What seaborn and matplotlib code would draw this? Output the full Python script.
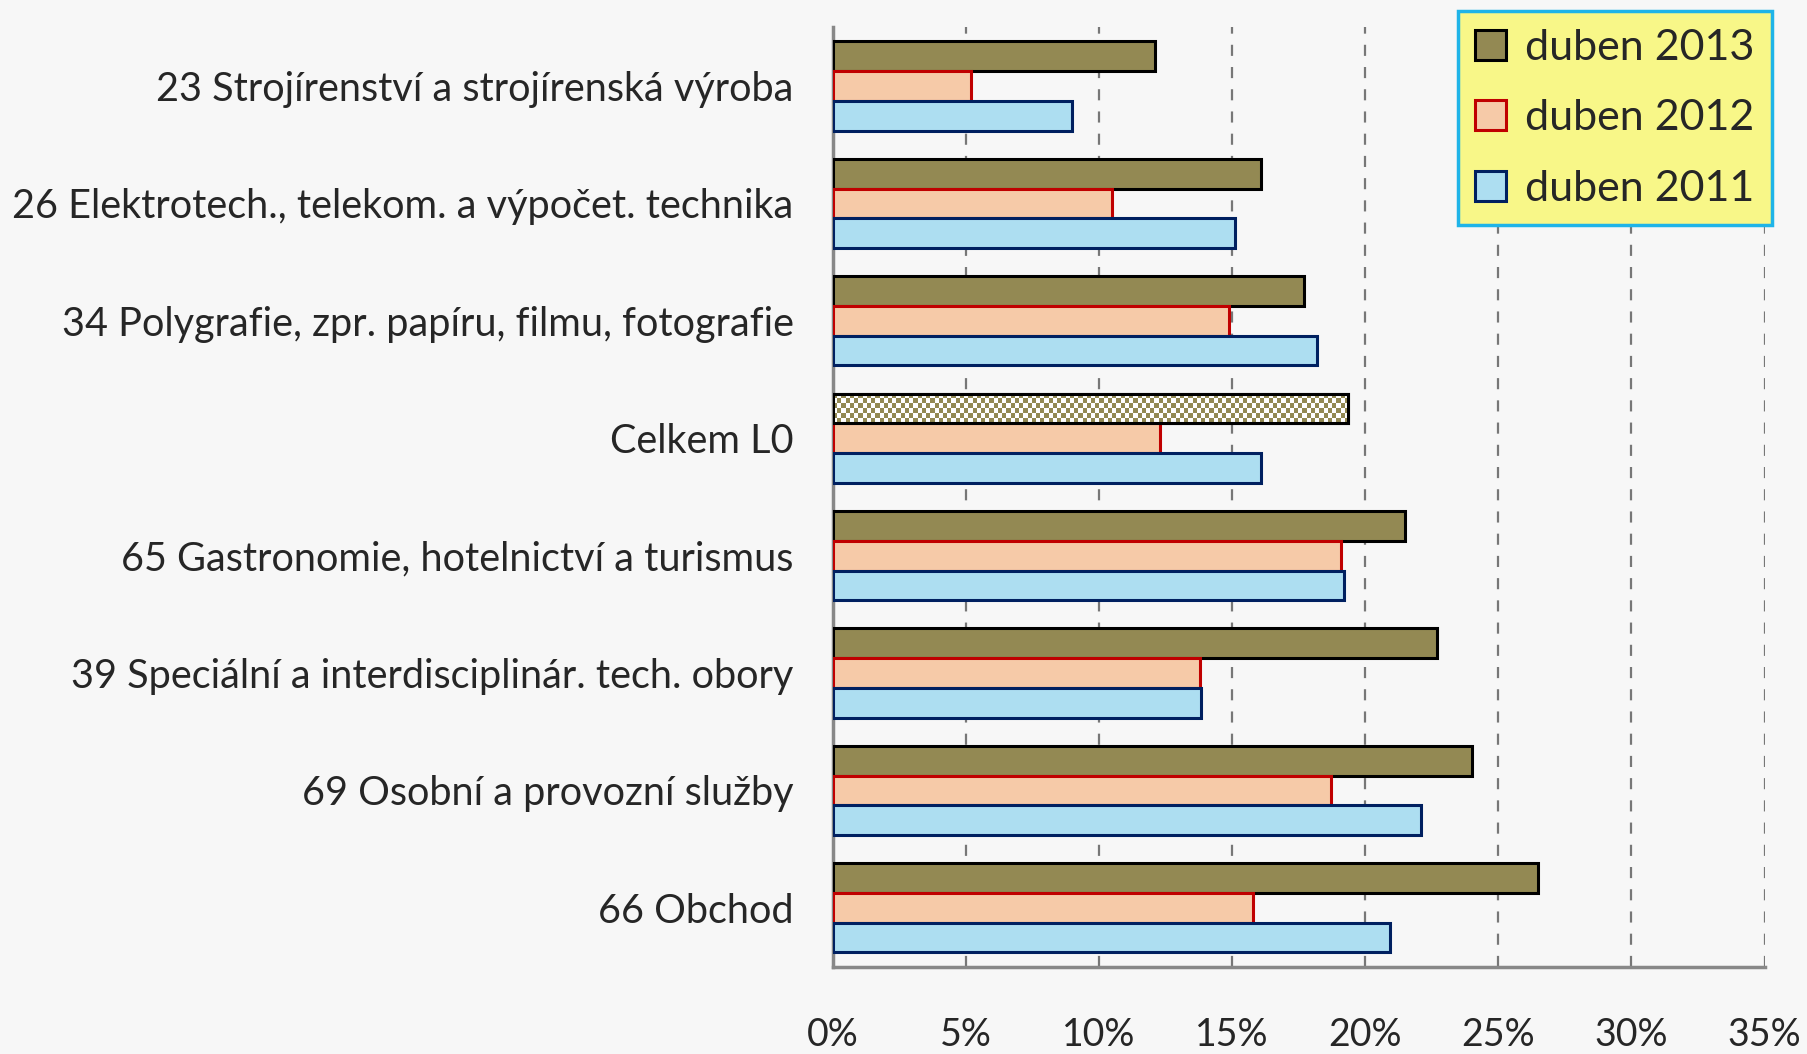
import numpy as np
import pandas as pd
import matplotlib
matplotlib.use("Agg")
import matplotlib.pyplot as plt
import seaborn as sns

# data (podíl nezaměstnaných absolventů, %)
obory = ['23 Strojírenství a strojírenská výroba',
         '26 Elektrotech., telekom. a výpočet. technika',
         '34 Polygrafie, zpr. papíru, filmu, fotografie',
         'Celkem L0',
         '65 Gastronomie, hotelnictví a turismus',
         '39 Speciální a interdisciplinár. tech. obory',
         '69 Osobní a provozní služby',
         '66 Obchod']
duben_2013 = [12.1, 16.1, 17.7, 19.35, 21.5, 22.7, 24.0, 26.5]
duben_2012 = [5.2, 10.5, 14.9, 12.3, 19.1, 13.8, 18.7, 15.8]
duben_2011 = [9.0, 15.1, 18.2, 16.1, 19.2, 13.85, 22.1, 20.95]
roky = ['duben 2013', 'duben 2012', 'duben 2011']
x_ticks = [0, 5, 10, 15, 20, 25, 30, 35]

df = pd.DataFrame({
    'obor': obory * 3,
    'rok': [roky[0]] * 8 + [roky[1]] * 8 + [roky[2]] * 8,
    'hodnota': duben_2013 + duben_2012 + duben_2011,
})

sns.set_theme(style='white')
plt.rcParams['font.family'] = ['Lato', 'DejaVu Sans']

face = {'duben 2013': '#938953', 'duben 2012': '#f6caa8', 'duben 2011': '#addef1'}
edge = {'duben 2013': '#000000', 'duben 2012': '#c00000', 'duben 2011': '#002060'}
bg = '#f7f7f7'

fig = plt.figure(figsize=(18.08, 10.54), dpi=100, facecolor=bg)
ax = fig.add_axes([0.4605, 0.083, 0.5155, 0.891])
ax.set_facecolor(bg)

sns.barplot(data=df, y='obor', x='hodnota', hue='rok', hue_order=roky, order=obory,
            orient='h', palette=face, saturation=1, width=0.76, ax=ax, legend=True, zorder=3)

for cont, r in zip(ax.containers, roky):
    for p in cont.patches:
        p.set_edgecolor(edge[r])
        p.set_linewidth(2.2)

# Celkem L0 - 2013 checkerboard fill
bar = ax.containers[0].patches[obory.index('Celkem L0')]
bx, by, bw, bh = bar.get_x(), bar.get_y(), bar.get_width(), bar.get_height()
n_x = int(bw / 35 * 931 / 4.2)
n_y = 6
chk = (np.indices((n_y, n_x)).sum(axis=0) % 2)
cmap = matplotlib.colors.ListedColormap(['#938953', '#ffffff'])
im = ax.imshow(chk, cmap=cmap, extent=(bx, bx + bw, by + bh, by), aspect='auto',
               interpolation='nearest', zorder=3.5)
im.set_clip_path(bar)
ax.add_patch(plt.Rectangle((bx, by), bw, bh, fill=False, edgecolor='black', lw=2.2, zorder=4))

ax.set_xlim(0, 35)
ax.set_ylim(7.5, -0.5)
ax.set_xticks(x_ticks)
ax.set_xticklabels([f'{t}%' for t in x_ticks], fontsize=27)
ax.xaxis.grid(True, linestyle=(0, (5, 5)), color='#777777', linewidth=1.6, zorder=0)
ax.yaxis.grid(False)
ax.set_xlabel('')
ax.set_ylabel('')

ax.set_yticks(range(len(obory)))
ax.set_yticklabels(obory, fontsize=28.5)
ax.set_yticks(np.arange(-0.5, len(obory), 1), minor=True)
ax.tick_params(axis='y', which='major', length=0, pad=28)
ax.tick_params(axis='y', which='minor', length=9, width=2, color='#888888', direction='out')
ax.tick_params(axis='x', which='major', length=10, width=2, color='#888888', direction='out', pad=26)

for s in ['top', 'right']:
    ax.spines[s].set_visible(False)
for s in ['left', 'bottom']:
    ax.spines[s].set_color('#888888')
    ax.spines[s].set_linewidth(2.5)

leg = ax.legend(loc='upper right', bbox_to_anchor=(1.0074, 1.017), fontsize=31, frameon=True,
                fancybox=False, handlelength=0.7, handleheight=0.7, handletextpad=0.45,
                labelspacing=0.76, borderpad=0.4, borderaxespad=0)
leg.get_frame().set_facecolor('#f8f788')
leg.get_frame().set_edgecolor('#1fb4e8')
leg.get_frame().set_linewidth(2.5)
leg.get_frame().set_alpha(1)
leg.set_zorder(10)
for h, r in zip(leg.legend_handles, roky):
    h.set_edgecolor(edge[r])
    h.set_linewidth(2.2)

fig.savefig('out.png', dpi=100, facecolor=bg)
